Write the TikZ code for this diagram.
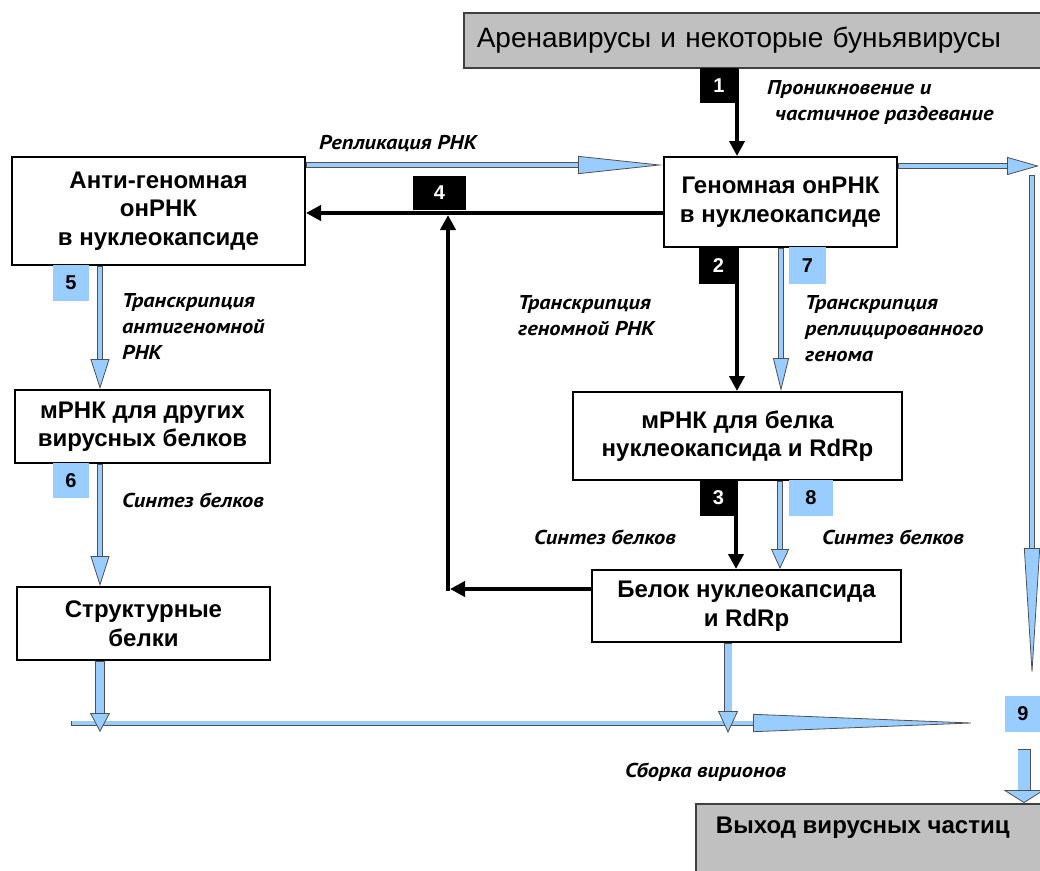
\documentclass[tikz,border=0pt]{standalone}
\usepackage{fontspec}
\setmainfont{Liberation Sans}
\newfontfamily\labfont{PT Sans}[FakeStretch=1.12]
\usetikzlibrary{arrows.meta}
\definecolor{bfill}{HTML}{99CCFF}
\definecolor{bline}{HTML}{505050}
\definecolor{gbox}{HTML}{C0C0C0}
\begin{document}
\begin{tikzpicture}[x=1pt,y=-1pt,
  box/.style={draw=black, line width=2pt, fill=white, align=center, inner sep=0pt,
    font=\bfseries\fontsize{24}{28.5}\selectfont},
  gbx/.style={draw=black!75, line width=1.5pt, fill=gbox, inner sep=0pt},
  nb/.style={fill=black, text=white, inner sep=0pt, font=\bfseries\fontsize{20}{20}\selectfont},
  nbb/.style={fill=bfill, text=black, inner sep=0pt, font=\bfseries\fontsize{20}{20}\selectfont},
  lab/.style={anchor=north west, align=left, inner sep=0pt,
    font=\labfont\bfseries\itshape\fontsize{20}{26}\selectfont},
  blk/.style={line width=4pt, -{Triangle[length=15pt,width=15pt]}},
  blu/.style n args={4}{draw=bline, line width=0.8pt,
    -{Triangle[length=#1,width=#2,fill=bfill,line width=0.8pt]},
    preaction={draw=bline, line width=#4, shorten >=#1, arrows=-},
    postaction={draw=bfill, line width=#3, shorten >=#1, shorten <=0.8pt, arrows=-}}
]
\useasboundingbox (0,0) rectangle (1040,870);
\clip (0,0) rectangle (1040,870);
\fill[white] (0,0) rectangle (1040,870);

% gray boxes
\node[gbx, anchor=north west, minimum height=55, text width=584, align=left, inner xsep=13pt,
  font=\fontsize{28}{30}\selectfont] (title) at (463,12) {Аренавирусы и некоторые буньявирусы};
\node[gbx, anchor=north west, minimum width=370, text height=30, text depth=60,
  font=\bfseries\fontsize{24}{28}\selectfont] (exit) at (695,803) {\hspace*{-36pt}Выход вирусных частиц};

% main boxes
\node[box, minimum width=293, minimum height=108] (anti) at (158.5,211) {Анти-геномная\\онРНК\\в нуклеокапсиде};
\node[box, minimum width=233, minimum height=90] (geno) at (780.5,202) {Геномная онРНК\\в нуклеокапсиде};
\node[box, minimum width=255, minimum height=73] (mrnaL) at (142.5,426.5) {мРНК для других\\вирусных белков};
\node[box, minimum width=253, minimum height=73] (struct) at (143.5,623.5) {Структурные\\белки};
\node[box, minimum width=329, minimum height=88] (mrnaR) at (737.5,436) {мРНК для белка\\нуклеокапсида и RdRp};
\node[box, minimum width=309, minimum height=72] (prot) at (746.5,606) {Белок нуклеокапсида\\и RdRp};

% free ends
\coordinate (rt) at (1039,166);
\coordinate (rvtop) at (1032,175);
\coordinate (rvend) at (1032,678);
\coordinate (asmstart) at (71,723);
\coordinate (asmend) at (981,723);
\coordinate (c4) at (448,589);
\coordinate (nine) at (1024,749);

% blue arrows
\draw[blu={85pt}{18pt}{3.5pt}{5.5pt}] (anti.east |- 0,165) -- (geno.west |- 0,165);
\draw[blu={32pt}{18pt}{3.5pt}{5.5pt}] (geno.east |- rt) -- (rt);
\draw[blu={130pt}{16pt}{3.5pt}{5.5pt}] (rvtop) -- (rvend);
\draw[blu={30pt}{19pt}{4.5pt}{6.5pt}] (anti.south -| 100,0) -- (mrnaL.north -| 100,0);
\draw[blu={30pt}{19pt}{4.5pt}{6.5pt}] (mrnaL.south -| 100,0) -- (struct.north -| 100,0);
\draw[blu={33pt}{16pt}{3.5pt}{5.5pt}] (geno.south -| 781,0) -- (mrnaR.north -| 781,0);
\draw[blu={20pt}{18pt}{3.5pt}{5.5pt}] (mrnaR.south -| 780,0) -- (prot.north -| 780,0);
\draw[blu={228pt}{18pt}{3.5pt}{5pt}] (asmstart) -- (asmend);
\draw[blu={19pt}{20pt}{8.5pt}{10pt}] (struct.south -| 100,0) -- (100,732);
\draw[blu={22pt}{20pt}{7pt}{8.5pt}] (prot.south -| 728,0) -- (728,733);
\draw[blu={13pt}{41pt}{11.5pt}{13pt}] (nine) -- (exit.north -| nine);

% black arrows
\draw[blk] (title.south -| 737,0) -- (geno.north -| 737,0);
\draw[blk] (geno.south -| 737,0) -- (mrnaR.north -| 737,0);
\draw[blk] (mrnaR.south -| 736,0) -- (prot.north -| 736,0);
\draw[blk] (geno.west |- 0,213) -- (anti.east |- 0,213);
\draw[blk] (prot.west |- c4) -- (450,589);
\draw[blk] (448,591) -- (448,215);

% number boxes
\node[nb, minimum width=38, minimum height=35] (n1) at (719,85.5) {1};
\node[nb, minimum width=39, minimum height=37] (n2) at (718.5,265.5) {2};
\node[nb, minimum width=37, minimum height=36] (n3) at (718.5,498) {3};
\node[nb, minimum width=53, minimum height=34] (n4) at (439.5,193) {4};
\node[nbb, minimum width=36, minimum height=36] (n5) at (71,283) {5};
\node[nbb, minimum width=36, minimum height=35] (n6) at (71,480.5) {6};
\node[nbb, minimum width=37, minimum height=37] (n7) at (807.5,265.5) {7};
\node[nbb, minimum width=44, minimum height=36] (n8) at (811,498) {8};
\node[nbb, minimum width=36, minimum height=36] (n9) at (1023,714) {9};

% labels
\node[lab] (l1) at (767,80) {Проникновение и\\\hspace*{8pt}частичное раздевание};
\node[lab] (lrep) at (319,135) {Репликация РНК};
\node[lab] (l5) at (122,293) {Транскрипция\\антигеномной\\РНК};
\node[lab] (l6) at (122,493) {Синтез белков};
\node[lab] (l2) at (518,295) {Транскрипция\\геномной РНК};
\node[lab] (l7) at (805,295) {Транскрипция\\реплицированного\\генома};
\node[lab] (l3) at (534,530) {Синтез белков};
\node[lab] (l8) at (822,530) {Синтез белков};
\node[lab] (lasm) at (625,763) {Сборка вирионов};
\end{tikzpicture}
\end{document}
